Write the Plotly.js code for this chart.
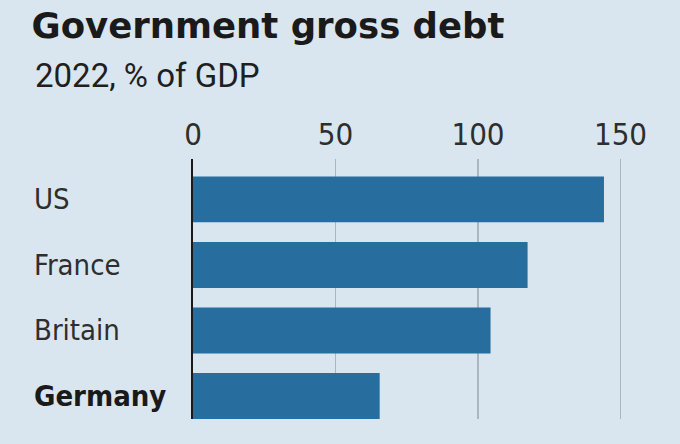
<!DOCTYPE html>
<html>
<head>
<meta charset="utf-8">
<script src="https://cdn.plot.ly/plotly-3.0.1.min.js"></script>
<style>
  html, body { margin: 0; padding: 0; background: #d9e6ef; }
  #chart { width: 680px; height: 444px; }
</style>
</head>
<body>
<div id="chart"></div>
<script>
// ---- data ----
const countries = ['US', 'France', 'Britain', 'Germany'];
const debtPctGdp = [144.2, 117.4, 104.4, 65.5];
const tickValues = [0, 50, 100, 150];
const tickLabels = ['0', '50', '100', '150'];
const boldCategories = ['Germany'];
const titleText = 'Government gross debt';
const subtitleText = '2022, % of GDP';

// ---- styling ----
const BG = '#d9e6ef';
const BAR = '#276e9e';
const NARROW = '"DejaVu Sans Condensed", "DejaVu Sans", sans-serif';

const W = 680, H = 444;
const mL = 192.7, mR = 30.5, mT = 159.3, mB = 24.7;
const plotW = W - mL - mR;
const plotH = H - mT - mB;
const px2paperX = p => (p - mL) / plotW;
const px2paperY = p => (H - mB - p) / plotH;

const trace = {
  type: 'bar',
  orientation: 'h',
  y: countries,
  x: debtPctGdp,
  width: 0.70,
  marker: { color: BAR, line: { width: 0 } },
  hoverinfo: 'skip'
};

const annotations = countries.map(c => ({
  text: boldCategories.includes(c) ? '<b>' + c + '</b>' : c,
  xref: 'paper', x: px2paperX(31), xanchor: 'left',
  yref: 'y', y: c, yanchor: 'middle',
  showarrow: false,
  font: { family: NARROW, size: 29, color: boldCategories.includes(c) ? '#1a1a1a' : '#2e2e2e' }
}));

annotations.push({
  text: subtitleText,
  xref: 'paper', x: px2paperX(32.5), xanchor: 'left',
  yref: 'paper', y: px2paperY(75.8), yanchor: 'middle',
  showarrow: false,
  font: { family: 'Roboto, sans-serif', size: 33, color: '#1f1f1f' }
});

const layout = {
  width: W, height: H,
  paper_bgcolor: BG, plot_bgcolor: BG,
  margin: { l: mL, r: mR, t: mT, b: mB, pad: 0 },
  showlegend: false,
  title: {
    text: titleText,
    font: { family: '"DejaVu Sans", sans-serif', size: 35.5, weight: 700, color: '#1a1a1a' },
    xref: 'container', x: 31.5 / W, xanchor: 'left',
    yref: 'container', y: 1 - 13.3 / H, yanchor: 'top'
  },
  xaxis: {
    side: 'top',
    range: [0, 160],
    tickmode: 'array', tickvals: tickValues, ticktext: tickLabels,
    ticks: '',
    ticklabelstandoff: 7,
    showgrid: true, gridcolor: '#abb7c0', gridwidth: 1.5,
    zeroline: false, showline: false,
    tickfont: { family: NARROW, size: 31, color: '#2e2e2e' },
    fixedrange: true
  },
  yaxis: {
    type: 'category',
    categoryorder: 'array', categoryarray: countries,
    range: [3.351, -0.617],
    showticklabels: false, ticks: '',
    showgrid: false, zeroline: false,
    showline: true, linecolor: '#1a1a1a', linewidth: 2.2,
    layer: 'above traces',
    fixedrange: true
  },
  annotations: annotations
};

Plotly.newPlot('chart', [trace], layout, { displayModeBar: false, staticPlot: true });
</script>
</body>
</html>
